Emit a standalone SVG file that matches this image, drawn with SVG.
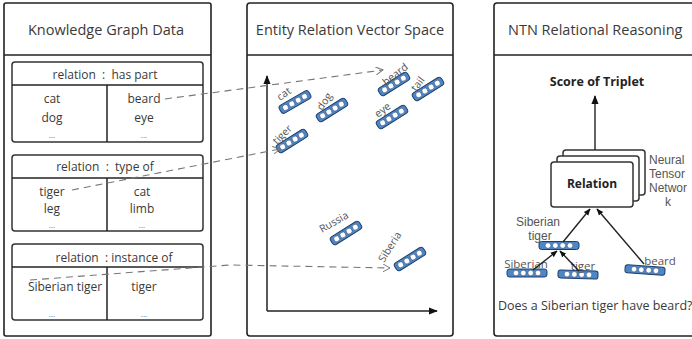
<svg xmlns="http://www.w3.org/2000/svg" width="692" height="339" viewBox="0 0 692 339">
  <style>
    text { font-family: "Open Sans", "Noto Sans", "DejaVu Sans", sans-serif; fill: #3a3a3a; white-space: pre; }
    .hd { font-size: 14.5px; }
    .rel { font-size: 12px; text-anchor: middle; }
    .ent { font-size: 12px; text-anchor: middle; }
    .dots { font-size: 8px; text-anchor: middle; fill: #666; }
    .lbl { font-size: 10.5px; fill: #555; }
    .ntn { font-size: 11.5px; fill: #555; }
    .tight { font-family: "Liberation Sans", Arial, sans-serif; font-size: 11.5px; fill: #555; }
    .bold { font-weight: bold; font-size: 12.5px; fill: #222; text-anchor: middle; }
    .panel { fill: #fff; stroke: #222; stroke-width: 1.6; }
    .box { fill: #fff; stroke: #333; stroke-width: 1.5; }
    .ln { stroke: #222; stroke-width: 1.5; fill: none; }
    .dash { stroke: #777; stroke-width: 1.1; stroke-dasharray: 7 5; fill: none; }
    .arr { stroke: #222; stroke-width: 1.4; fill: none; }
  </style>
  <defs>
    <!-- embedding vector: rounded bar with four cells -->
    <g id="vec">
      <rect x="-17" y="-4.5" width="34" height="9" rx="3" fill="#4f86c6" stroke="#1e3f6d" stroke-width="1"/>
      <circle cx="-11" cy="0" r="2.9" fill="#fff" stroke="#1e3f6d" stroke-width="0.5"/>
      <circle cx="-3.7" cy="0" r="2.9" fill="#fff" stroke="#1e3f6d" stroke-width="0.5"/>
      <circle cx="3.7" cy="0" r="2.9" fill="#fff" stroke="#1e3f6d" stroke-width="0.5"/>
      <circle cx="11" cy="0" r="2.9" fill="#fff" stroke="#1e3f6d" stroke-width="0.5"/>
    </g>
    <g id="hvec">
      <rect x="-20" y="-4" width="40" height="8" rx="2.5" fill="#4f86c6" stroke="#1e3f6d" stroke-width="1"/>
      <circle cx="-11" cy="0" r="2.8" fill="#fff" stroke="#1e3f6d" stroke-width="0.5"/>
      <circle cx="-3.7" cy="0" r="2.8" fill="#fff" stroke="#1e3f6d" stroke-width="0.5"/>
      <circle cx="3.7" cy="0" r="2.8" fill="#fff" stroke="#1e3f6d" stroke-width="0.5"/>
      <circle cx="11" cy="0" r="2.8" fill="#fff" stroke="#1e3f6d" stroke-width="0.5"/>
    </g>
    <marker id="ah" viewBox="0 0 10 10" refX="9" refY="5" markerWidth="7" markerHeight="7" orient="auto" markerUnits="userSpaceOnUse">
      <path d="M0,1 L10,5 L0,9 Z" fill="#111"/>
    </marker>
    <marker id="ahs" viewBox="0 0 10 10" refX="9" refY="5" markerWidth="9" markerHeight="9" orient="auto" markerUnits="userSpaceOnUse">
      <path d="M0,1 L10,5 L0,9 Z" fill="#111"/>
    </marker>
    <marker id="open" viewBox="0 0 10 10" refX="9" refY="5" markerWidth="8" markerHeight="8" orient="auto" markerUnits="userSpaceOnUse">
      <path d="M0,0 L9,5 L0,10" fill="none" stroke="#777" stroke-width="1.2"/>
    </marker>
  </defs>

  <!-- Panel 1: knowledge graph triples -->
  <g id="panel-kg">
    <rect class="panel" x="4" y="3" width="207" height="333" rx="2"/>
    <line class="ln" x1="4" y1="55" x2="211" y2="55"/>
    <text class="hd" x="106" y="35" text-anchor="middle">Knowledge Graph Data</text>
  </g>
  <g id="rel-has-part">
    <rect class="box" x="12" y="62" width="191" height="80" rx="3"/>
    <line class="ln" x1="12" y1="85" x2="203" y2="85"/>
    <line class="ln" x1="107" y1="85" x2="107" y2="142"/>
    <text class="rel" x="105" y="79">relation  :  has part</text>
    <text class="ent" x="52" y="103">cat</text>
    <text class="ent" x="52" y="122">dog</text>
    <text class="dots" x="52" y="138">...</text>
    <text class="ent" x="144" y="103">beard</text>
    <text class="ent" x="144" y="122">eye</text>
    <text class="dots" x="144" y="138">...</text>
  </g>
  <g id="rel-type-of">
    <rect class="box" x="12" y="155" width="191" height="76" rx="3"/>
    <line class="ln" x1="12" y1="178" x2="203" y2="178"/>
    <line class="ln" x1="107" y1="178" x2="107" y2="231"/>
    <text class="rel" x="105" y="171">relation  :  type of</text>
    <text class="ent" x="52" y="196">tiger</text>
    <text class="ent" x="52" y="213">leg</text>
    <text class="dots" x="52" y="228">...</text>
    <text class="ent" x="142" y="196">cat</text>
    <text class="ent" x="142" y="213">limb</text>
    <text class="dots" x="142" y="228">...</text>
  </g>
  <g id="rel-instance-of">
    <rect class="box" x="12" y="244" width="191" height="76" rx="3"/>
    <line class="ln" x1="12" y1="267" x2="203" y2="267"/>
    <line class="ln" x1="107" y1="267" x2="107" y2="320"/>
    <text class="rel" x="114" y="262">relation  : instance of</text>
    <text class="ent" x="65" y="291">Siberian tiger</text>
    <text class="ent" x="144" y="291">tiger</text>
    <text class="dots" x="52" y="317">...</text>
    <text class="dots" x="144" y="317">...</text>
  </g>

  <!-- Panel 2: embedding space -->
  <g id="panel-space">
    <rect class="panel" x="247" y="3" width="206" height="333" rx="3"/>
    <line class="ln" x1="247" y1="55" x2="453" y2="55"/>
    <text class="hd" x="350" y="35" text-anchor="middle">Entity Relation Vector Space</text>
    <line class="ln" x1="267" y1="311" x2="267" y2="76" marker-end="url(#ahs)"/>
    <line class="ln" x1="267" y1="311" x2="437" y2="311" marker-end="url(#ahs)"/>
  </g>
  <g id="vec-cat"><use href="#vec" transform="translate(295,102) rotate(-30)"/><text class="lbl" transform="translate(280,101) rotate(-35)">cat</text></g>
  <g id="vec-dog"><use href="#vec" transform="translate(332,110) rotate(-32)"/><text class="lbl" transform="translate(322,111) rotate(-55)">dog</text></g>
  <g id="vec-tiger"><use href="#vec" transform="translate(292,141) rotate(-32)"/><text class="lbl" transform="translate(277,145) rotate(-45)">tiger</text></g>
  <g id="vec-beard"><use href="#vec" transform="translate(394,84) rotate(-32)"/><text class="lbl" transform="translate(386,86) rotate(-38)">beard</text></g>
  <g id="vec-tail"><use href="#vec" transform="translate(428,89) rotate(-32)"/><text class="lbl" transform="translate(416,92) rotate(-52)">tail</text></g>
  <g id="vec-eye"><use href="#vec" transform="translate(392,117) rotate(-32)"/><text class="lbl" transform="translate(378,118) rotate(-38)">eye</text></g>
  <g id="vec-russia"><use href="#vec" transform="translate(346,233) rotate(-32)"/><text class="lbl" transform="translate(322,233) rotate(-30)">Russia</text></g>
  <g id="vec-siberia"><use href="#vec" transform="translate(410,259) rotate(-32)"/><text class="lbl" transform="translate(384,263) rotate(-58)">Siberia</text></g>

  <!-- Panel 3: tensor network reasoning -->
  <g id="panel-ntn">
    <rect class="panel" x="494" y="3" width="210" height="333" rx="3"/>
    <line class="ln" x1="494" y1="55" x2="692" y2="55"/>
    <text class="hd" x="508" y="35">NTN Relational Reasoning</text>
    <text class="bold" x="597" y="86">Score of Triplet</text>
  </g>
  <g id="ntn-relation">
    <rect class="box" x="563" y="150" width="82" height="45" rx="3"/>
    <rect class="box" x="557" y="156" width="82" height="45" rx="3"/>
    <rect class="box" x="551" y="162" width="82" height="45" rx="3"/>
    <text class="bold" x="592" y="188" style="font-size:12px">Relation</text>
    <text class="tight" x="649" y="164" style="font-size:12px"><tspan x="649">Neural</tspan><tspan x="649" dy="14">Tensor</tspan><tspan x="649" dy="14">Networ</tspan><tspan x="665" dy="14">k</tspan></text>
  </g>
  <g id="ntn-siberian-tiger"><use href="#hvec" transform="translate(559,245.5)"/>
    <text class="tight" y="226" text-anchor="middle" style="font-size:12px"><tspan x="538">Siberian</tspan><tspan x="540" dy="14">tiger</tspan></text></g>
  <g id="ntn-siberian"><use href="#hvec" transform="translate(527,273)"/>
    <text class="ntn" x="526" y="268" text-anchor="middle">Siberian</text></g>
  <g id="ntn-tiger"><use href="#hvec" transform="translate(578,274.5) rotate(2)"/>
    <text class="ntn" x="583" y="270" text-anchor="middle">tiger</text></g>
  <g id="ntn-beard"><use href="#hvec" transform="translate(645,270) rotate(4)"/>
    <text class="ntn" x="660" y="265" text-anchor="middle">beard</text></g>
  <text class="ntn" x="498" y="310" style="font-size:12.5px; fill:#3a3a3a">Does a Siberian tiger have beard?</text>

  <!-- connectors -->
  <g id="connectors">
    <path class="dash" d="M165,99 L383,70" marker-end="url(#open)"/>
    <path class="dash" d="M72,190 L280,149" marker-end="url(#open)"/>
    <path class="dash" d="M30,280 L230,265 L390,268" marker-end="url(#open)"/>
    <line class="arr" x1="595" y1="150" x2="595" y2="96" marker-end="url(#ahs)"/>
    <line class="arr" x1="563" y1="242" x2="590" y2="209" marker-end="url(#ah)"/>
    <line class="arr" x1="644" y1="264" x2="597" y2="209" marker-end="url(#ah)"/>
    <line class="arr" x1="533" y1="270" x2="557" y2="251" marker-end="url(#ah)"/>
    <line class="arr" x1="579" y1="271" x2="560" y2="251" marker-end="url(#ah)"/>
  </g>
</svg>
